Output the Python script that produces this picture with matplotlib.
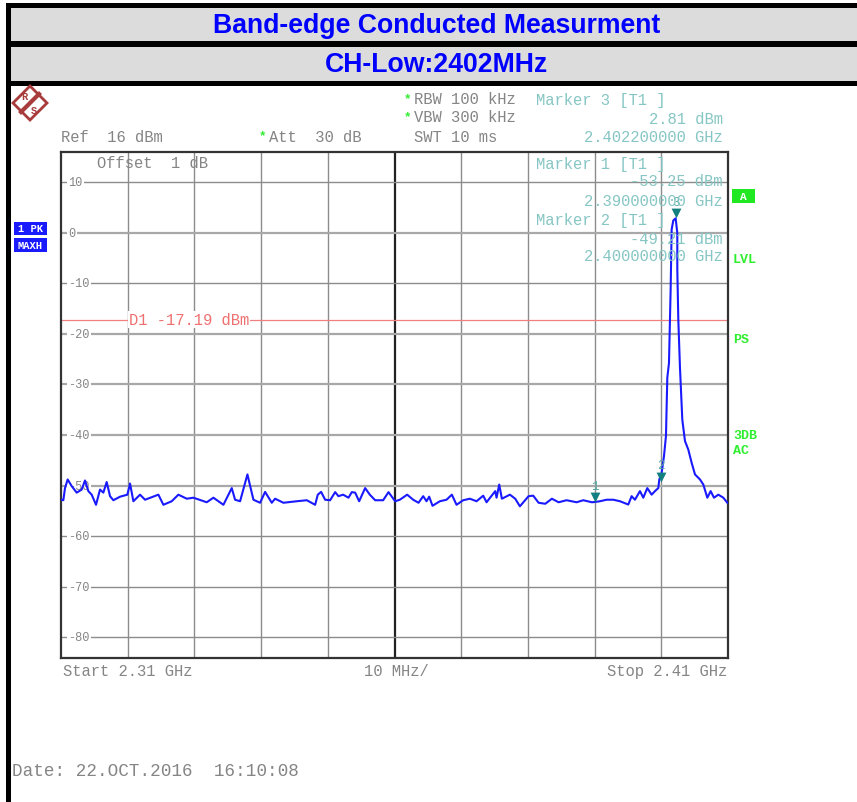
import matplotlib
matplotlib.use("Agg")
import matplotlib.pyplot as plt
from matplotlib.patches import Rectangle, Polygon

W, H = 857, 803

# trace, MHz / dBm
freq_mhz = [
    2310.1, 2310.35, 2310.6, 2311.0, 2311.6, 2312.35, 2313.1, 2313.6, 2314.1, 2314.6,
    2315.25, 2315.85, 2316.35, 2316.85, 2317.35, 2317.85, 2318.85, 2319.95, 2320.35, 2320.85,
    2321.85, 2322.6, 2324.6, 2325.35, 2326.6, 2327.6, 2328.85, 2329.85, 2331.85, 2332.85,
    2334.35, 2335.6, 2336.1, 2336.85, 2337.95, 2338.85, 2339.85, 2340.6, 2341.6, 2342.1,
    2343.35, 2345.35, 2346.85, 2348.1, 2348.5, 2349.0, 2349.6, 2350.35, 2351.1, 2351.6,
    2352.3, 2353.1, 2353.6, 2354.1, 2354.7, 2355.6, 2356.3, 2357.1, 2358.3, 2359.1,
    2360.1, 2360.8, 2361.9, 2362.8, 2363.6, 2364.3, 2364.8, 2365.2, 2365.7, 2366.8,
    2367.8, 2368.6, 2369.3, 2370.3, 2371.3, 2372.3, 2373.3, 2373.8, 2375.1, 2375.3,
    2375.7, 2376.1, 2377.3, 2378.1, 2378.8, 2380.1, 2380.8, 2381.6, 2382.6, 2383.6,
    2384.6, 2385.8, 2387.3, 2388.3, 2389.6, 2390.0, 2390.8, 2391.8, 2392.8, 2393.8,
    2395.05, 2395.55, 2396.05, 2396.8, 2397.3, 2397.9, 2398.55, 2399.05, 2399.55, 2399.7,
    2400.05, 2400.4, 2400.7, 2400.9, 2401.15, 2401.4, 2401.55, 2401.8, 2402.15, 2402.4,
    2402.4, 2402.55, 2402.8, 2403.15, 2403.55, 2404.05, 2404.55, 2405.05, 2405.8, 2406.3,
    2406.9, 2407.4, 2407.9, 2408.55, 2409.3, 2409.9,
]
level_dbm = [
    -52.8, -52.9, -50.5, -48.8, -50.1, -51.4, -50.8, -49.0, -51.1, -51.8,
    -53.8, -50.8, -51.4, -49.3, -52.1, -52.9, -52.2, -51.8, -49.6, -53.1,
    -51.8, -52.8, -51.8, -53.8, -53.1, -51.8, -52.6, -52.4, -53.3, -52.4,
    -53.8, -50.5, -52.8, -53.1, -47.8, -52.8, -53.4, -51.25, -53.4, -52.6,
    -53.4, -53.1, -52.9, -53.8, -51.8, -51.25, -52.8, -52.9, -51.3, -52.1,
    -51.8, -52.4, -51.3, -51.4, -53.1, -50.5, -51.8, -52.9, -52.9, -51.3,
    -53.1, -52.8, -51.8, -52.8, -53.4, -52.1, -53.1, -52.2, -54.0, -53.1,
    -52.8, -51.8, -53.8, -52.9, -52.6, -53.1, -52.0, -53.3, -51.1, -52.4,
    -49.8, -52.6, -51.8, -52.6, -54.1, -52.1, -52.0, -53.4, -53.6, -52.6,
    -53.3, -52.9, -53.3, -52.9, -53.3, -53.25, -53.1, -52.8, -52.8, -53.1,
    -53.75, -52.1, -52.8, -51.1, -52.4, -50.5, -51.8, -51.1, -50.5, -48.8,
    -47.5, -44.2, -40.2, -28.7, -25.8, -11.3, 0.6, 2.4, 2.81, -0.1,
    -7.3, -17.2, -26.7, -37.0, -41.2, -42.9, -45.5, -47.8, -48.8, -49.8,
    -52.4, -51.1, -52.4, -51.8, -52.4, -53.4,
]

marker_freq = [2390.0, 2400.0, 2402.2]
marker_level = [-53.25, -49.21, 2.81]
marker_names = ["1", "2", "3"]

x_grid = [2320, 2330, 2340, 2350, 2370, 2380, 2390, 2400]
y_grid = [10, 0, -10, -20, -30, -40, -50, -60, -70, -80]
y_labels = ["10", "0", "-10", "-20", "-30", "-40", "-50", "-60", "-70", "-80"]
limit_dbm = -17.19

GRID = "#8c8c8c"
MONO = "#858585"
TEAL = "#86c6c4"
GREEN = "#30ee30"
BLUE = "#1a1aff"


def px_text(x, y, s, color=MONO, size=11.2, ha="left", **kw):
    kw.setdefault("family", "Liberation Mono")
    fig.text(x / W, 1 - y / H, s, color=color, fontsize=size, ha=ha, va="center", **kw)


def px_rect(x0, y0, x1, y1, color):
    fig.add_artist(Rectangle((x0 / W, 1 - y1 / H), (x1 - x0) / W, (y1 - y0) / H,
                             transform=fig.transFigure, facecolor=color, edgecolor="none"))


fig = plt.figure(figsize=(W / 100, H / 100), dpi=100, facecolor="white")

# header bands
px_rect(6, 4, W, 87, "black")
px_rect(11, 9, W, 42, "#dcdcdc")
px_rect(11, 48, W, 82, "#dcdcdc")
px_rect(6, 87, 11, H, "black")
for s, y in (("Band-edge Conducted Measurment", 26), ("CH-Low:2402MHz", 65)):
    px_text(437, y, s, color="#0000ff", size=19.2, ha="center", family="Liberation Sans", weight="bold")

# plot area
ax = fig.add_axes([61 / W, 1 - 658.6 / H, 667 / W, 506 / H])
ax.set_xlim(2310, 2410)
ax.set_ylim(-84, 16)
ax.set_xticks([])
ax.set_yticks([])
for spine in ax.spines.values():
    spine.set_linewidth(1.6)
    spine.set_color("#333333")

for f in x_grid:
    ax.axvline(f, color=GRID, lw=1.0, zorder=1)
ax.axvline(2360, color="#222222", lw=1.6, zorder=1)
for lev, lab in zip(y_grid, y_labels):
    # some rows came out heavier and paler on the screenshot
    heavy = lev in (0, -20, -30, -40, -50)
    ax.axhline(lev, color="#a8a8a8" if heavy else GRID, lw=1.6 if heavy else 1.0, zorder=1)
    ax.text(0.0105, lev, lab, transform=ax.get_yaxis_transform(), color=MONO, fontsize=8.6,
            family="Liberation Mono", va="center", ha="left", zorder=2,
            bbox=dict(facecolor="white", edgecolor="none", pad=1))

ax.axhline(limit_dbm, color="#f08080", lw=0.9, zorder=2)
ax.text(2320.2, limit_dbm, "D1 -17.19 dBm", color="#ee7070", fontsize=11.2, family="Liberation Mono",
        va="center", ha="left", zorder=3, bbox=dict(facecolor="white", edgecolor="none", pad=0.5))

ax.plot(freq_mhz, level_dbm, color=BLUE, lw=1.5, zorder=4)

ax.scatter(marker_freq, [v + 1.0 for v in marker_level], marker="v", s=50, color="#128080",
           linewidths=0, zorder=5)
for f, v, name in zip(marker_freq, marker_level, marker_names):
    ax.text(f, v + 3.2, name, color="#55a8a4", fontsize=9, family="Liberation Mono",
            ha="center", va="center", zorder=5)

# readouts over the grid
px_text(97, 163, "Offset  1 dB", zorder=10)
px_text(536, 164, "Marker 1 [T1 ]", color=TEAL, zorder=10)
px_text(723, 182, "-53.25 dBm", color=TEAL, ha="right", zorder=10)
px_text(723, 201, "2.390000000 GHz", color=TEAL, ha="right", zorder=10)
px_text(536, 220, "Marker 2 [T1 ]", color=TEAL, zorder=10)
px_text(723, 239, "-49.21 dBm", color=TEAL, ha="right", zorder=10)
px_text(723, 257, "2.400000000 GHz", color=TEAL, ha="right", zorder=10)

# settings above the grid
px_text(61, 138, "Ref  16 dBm")
px_text(269, 138, "Att  30 dB")
px_text(414, 100, "RBW 100 kHz")
px_text(414, 118, "VBW 300 kHz")
px_text(414, 137, "SWT 10 ms")
px_text(536, 100, "Marker 3 [T1 ]", color=TEAL)
px_text(723, 119, "2.81 dBm", color=TEAL, ha="right")
px_text(723, 137, "2.402200000 GHz", color=TEAL, ha="right")
for x, y in ((262, 136), (407, 99), (407, 117)):
    px_text(x, y, "*", color=GREEN, size=9, ha="center", weight="bold")

# under the grid
px_text(63, 672, "Start 2.31 GHz")
px_text(364, 672, "10 MHz/")
px_text(727, 672, "Stop 2.41 GHz", ha="right")
px_text(12, 772, "Date: 22.OCT.2016  16:10:08", size=12.7)

# side flags
px_rect(14, 223, 47, 236, BLUE)
px_rect(14, 239, 47, 253, BLUE)
px_text(30.5, 229.5, "1 PK", color="white", size=7.5, ha="center", weight="bold")
px_text(30.5, 246, "MAXH", color="white", size=7.5, ha="center", weight="bold")
px_rect(732, 190, 755, 204, "#22e822")
px_text(743, 197, "A", color="white", size=8, ha="center", weight="bold")
for s, y in (("LVL", 260), ("PS", 340), ("3DB", 436), ("AC", 451)):
    px_text(733, y, s, color=GREEN, size=9.6, weight="bold")

# R&S logo
LOGO = "#a83c3c"
cx, cy, r = 30, 104, 17
fig.add_artist(Polygon([((cx - r) / W, 1 - cy / H), (cx / W, 1 - (cy - r) / H),
                        ((cx + r) / W, 1 - cy / H), (cx / W, 1 - (cy + r) / H)], closed=True,
                       transform=fig.transFigure, facecolor="white", edgecolor=LOGO, lw=2.0))
fig.add_artist(plt.Line2D([(cx - 9) / W, (cx + 9) / W], [1 - (cy + 9) / H, 1 - (cy - 9) / H],
                          transform=fig.transFigure, color=LOGO, lw=3.0))
px_text(24, 97, "R", color=LOGO, size=7.5, ha="center", weight="bold")
px_text(34, 111, "S", color=LOGO, size=7.5, ha="center", weight="bold")

fig.savefig("out.png", dpi=100)
